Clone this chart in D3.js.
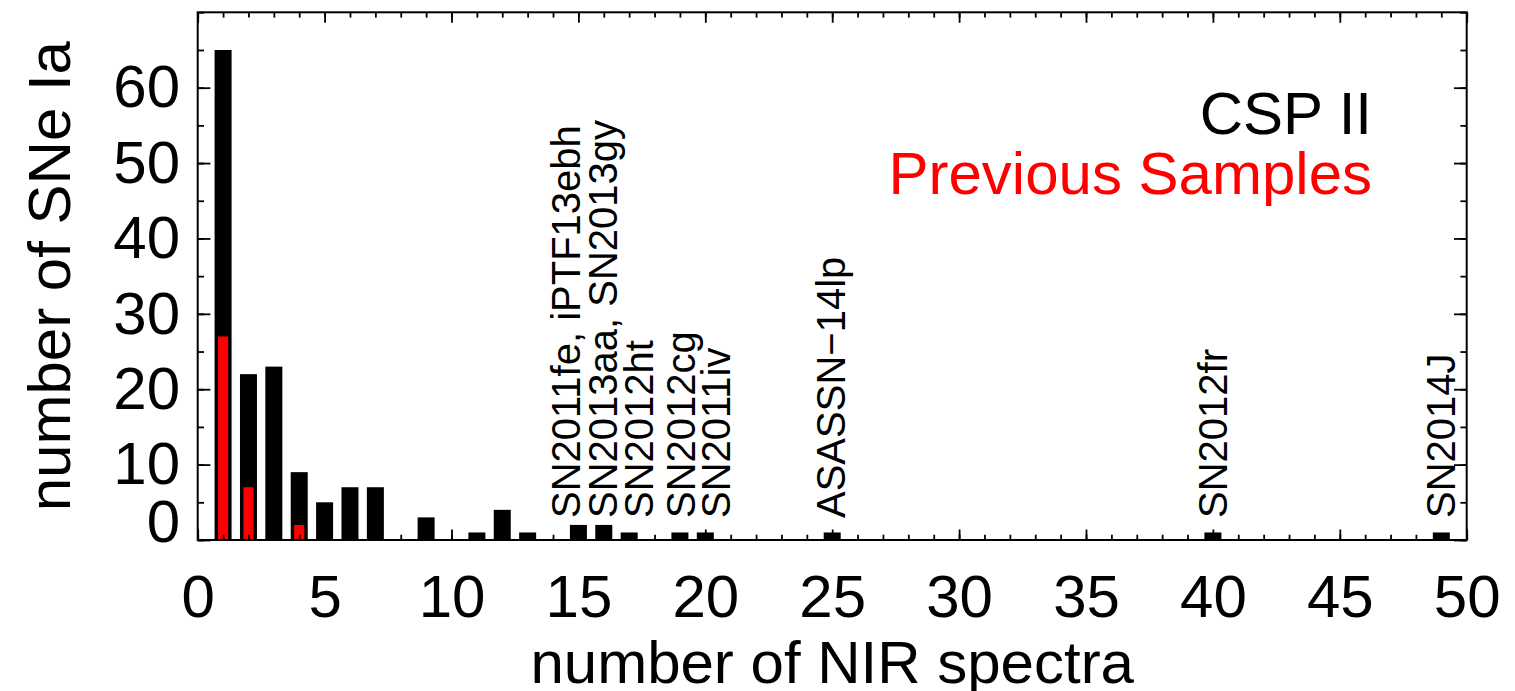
<!DOCTYPE html>
<html lang="en">
<head>
	<meta charset="UTF-8"/>
	<title>NIR spectra per SN Ia</title>
	<!-- Include D3.js library -->
    <script src="https://d3js.org/d3.v7.min.js"></script>
    <style>
        body { margin: 0; background: #fff; }
        svg { display: block; font-family: "Liberation Sans", Arial, Helvetica, sans-serif; }
    </style>
</head>

<body>
    <script>
        // Histogram data: number of NIR spectra per supernova
        var nSpectra  = [1, 2, 3, 4, 5, 6, 7, 9, 11, 12, 13, 15, 16, 17, 19, 20, 25, 40, 49];
        var cspCounts = [65, 22, 23, 9, 5, 7, 7, 3, 1, 4, 1, 2, 2, 1, 1, 1, 1, 1, 1];

        // Previous samples (red)
        var prevSpectra = [1, 2, 4];
        var prevCounts  = [27, 7, 2];

        // Names written above the well observed objects, with their x in data units
        var noteLabels = ["SN2011fe, iPTF13ebh", "SN2013aa, SN2013gy", "SN2012ht", "SN2012cg",
                          "SN2011iv", "ASASSN\u221214lp", "SN2012fr", "SN2014J"];
        var noteX      = [15.06, 16.51, 17.95, 19.6, 20.97, 25.5, 40.54, 49.54];

        var xTicks = [0, 5, 10, 15, 20, 25, 30, 35, 40, 45, 50];
        var yTicks = [0, 10, 20, 30, 40, 50, 60];

        // Canvas and plot box (note: "top" is taken by window.top)
        var w = 1515;
        var h = 691;
        var plotL = 197.7, plotR = 1466.7, plotT = 12.3, plotB = 540;

        var xScale = d3.scaleLinear()
                        .domain([0, 50])
                        .range([plotL, plotR]);

        var yScale = d3.scaleLinear()
                        .domain([0, 70])
                        .range([plotB, plotT]);

        var svg = d3.select("body")
                    .append("svg")
                    .attr("width", w)
                    .attr("height", h);

        // Black bars (CSP II)
        svg.selectAll("rect.csp")
            .data(nSpectra)
            .enter()
            .append("rect")
            .attr("class", "csp")
            .attr("x", function(d) { return xScale(d - 0.335); })
            .attr("width", function(d) { return xScale(d + 0.335) - xScale(d - 0.335); })
            .attr("y", function(d, i) { return yScale(cspCounts[i]); })
            .attr("height", function(d, i) { return yScale(0) - yScale(cspCounts[i]); })
            .attr("fill", "black");

        // Red bars (previous samples), narrower and in front
        svg.selectAll("rect.prev")
            .data(prevSpectra)
            .enter()
            .append("rect")
            .attr("class", "prev")
            .attr("x", function(d) { return xScale(d - 0.2); })
            .attr("width", function(d) { return xScale(d + 0.2) - xScale(d - 0.2); })
            .attr("y", function(d, i) { return yScale(prevCounts[i]); })
            .attr("height", function(d, i) { return yScale(0) - yScale(prevCounts[i]); })
            .attr("fill", "#ff0000");

        // Axes with inward ticks, IDL style
        function styleAxis(g) {
            g.selectAll("line").attr("stroke", "black").attr("stroke-width", 1.8);
            g.select(".domain").remove();
            g.selectAll("text").attr("font-size", "60px").attr("fill", "black")
             .attr("font-family", "Liberation Sans, Arial, Helvetica, sans-serif");
        }

        var xMinor = d3.range(0, 51);
        var yMinor = d3.range(0, 71, 5);

        // bottom
        svg.append("g")
           .attr("transform", "translate(0," + plotB + ")")
           .call(d3.axisBottom(xScale).tickValues(xMinor).tickSize(-5.3).tickFormat(""))
           .call(styleAxis);
        svg.append("g")
           .attr("transform", "translate(0," + plotB + ")")
           .call(d3.axisBottom(xScale).tickValues(xTicks).tickSize(-10.5).tickPadding(34).tickFormat(d3.format("d")))
           .call(styleAxis);

        // top
        svg.append("g")
           .attr("transform", "translate(0," + plotT + ")")
           .call(d3.axisTop(xScale).tickValues(xMinor).tickSize(-5.3).tickFormat(""))
           .call(styleAxis);
        svg.append("g")
           .attr("transform", "translate(0," + plotT + ")")
           .call(d3.axisTop(xScale).tickValues(xTicks).tickSize(-10.5).tickFormat(""))
           .call(styleAxis);

        // left
        svg.append("g")
           .attr("transform", "translate(" + plotL + ",0)")
           .call(d3.axisLeft(yScale).tickValues(yMinor).tickSize(-6.3).tickFormat(""))
           .call(styleAxis);
        var yAxisG = svg.append("g")
           .attr("transform", "translate(" + plotL + ",0)")
           .call(d3.axisLeft(yScale).tickValues(yTicks).tickSize(-12.7).tickPadding(17.7).tickFormat(d3.format("d")))
           .call(styleAxis);
        // IDL lifts the zero label so it sits on the axis line
        yAxisG.selectAll(".tick text")
              .filter(function(d) { return d === 0; })
              .attr("dy", "0.02em");

        // right
        svg.append("g")
           .attr("transform", "translate(" + plotR + ",0)")
           .call(d3.axisRight(yScale).tickValues(yMinor).tickSize(-6.3).tickFormat(""))
           .call(styleAxis);
        svg.append("g")
           .attr("transform", "translate(" + plotR + ",0)")
           .call(d3.axisRight(yScale).tickValues(yTicks).tickSize(-12.7).tickFormat(""))
           .call(styleAxis);

        // Plot frame
        svg.append("rect")
           .attr("x", plotL)
           .attr("y", plotT)
           .attr("width", plotR - plotL)
           .attr("height", plotB - plotT)
           .attr("fill", "none")
           .attr("stroke", "black")
           .attr("stroke-width", 2);

        // Object names, written upwards
        svg.selectAll("text.note")
            .data(noteLabels)
            .enter()
            .append("text")
            .attr("class", "note")
            .attr("transform", function(d, i) {
                return "translate(" + xScale(noteX[i]) + "," + 518 + ") rotate(-90)";
            })
            .attr("font-size", "40px")
            .attr("fill", "black")
            .text(function(d) { return d; });

        // Legend
        svg.append("text")
           .attr("x", 1372)
           .attr("y", 133.5)
           .attr("text-anchor", "end")
           .attr("font-size", "60px")
           .attr("fill", "black")
           .text("CSP II");

        svg.append("text")
           .attr("x", 1372)
           .attr("y", 193.5)
           .attr("text-anchor", "end")
           .attr("font-size", "60px")
           .attr("fill", "#ff0000")
           .text("Previous Samples");

        // Axis titles
        svg.append("text")
           .attr("x", (plotL + plotR) / 2)
           .attr("y", 683)
           .attr("text-anchor", "middle")
           .attr("font-size", "60px")
           .attr("fill", "black")
           .text("number of NIR spectra");

        svg.append("text")
           .attr("transform", "rotate(-90)")
           .attr("x", -(plotT + plotB) / 2)
           .attr("y", 70)
           .attr("text-anchor", "middle")
           .attr("font-size", "60px")
           .attr("fill", "black")
           .text("number of SNe Ia");
    </script>
</body>
</html>
